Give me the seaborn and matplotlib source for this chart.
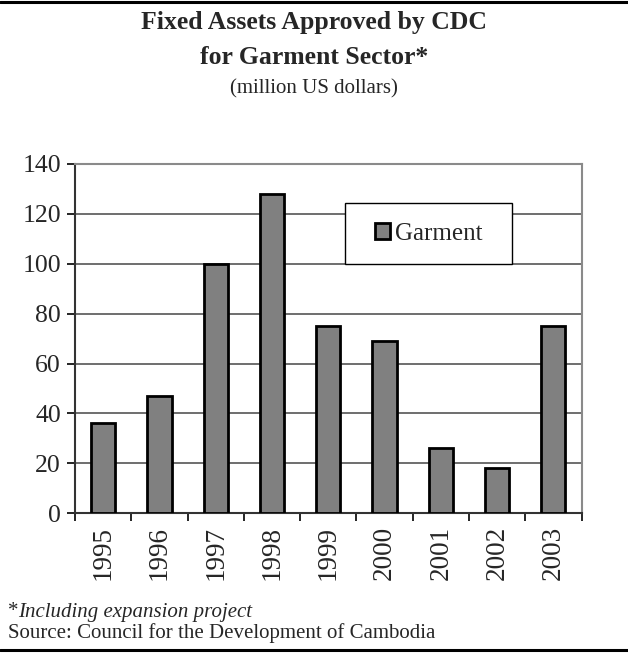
import matplotlib
matplotlib.use("Agg")
import matplotlib.pyplot as plt
import seaborn as sns
import numpy as np
import pandas as pd
from matplotlib.lines import Line2D
from matplotlib.patches import Rectangle

years = ["1995", "1996", "1997", "1998", "1999", "2000", "2001", "2002", "2003"]
garment = [36, 47, 100, 128, 75, 69, 26, 18, 75]
yticks = [0, 20, 40, 60, 80, 100, 120, 140]

sns.set_style("white")
plt.rcParams["font.family"] = ["Liberation Serif", "DejaVu Serif"]

fig = plt.figure(figsize=(6.28, 6.53), dpi=100)
ax = fig.add_axes([75/628, 1-513.3/653, 506.5/628, 349.3/653])

df = pd.DataFrame({"year": years, "value": garment})
sns.barplot(data=df, x="year", y="value", color="#808080", edgecolor="black",
            linewidth=2, width=0.43, saturation=1, label="Garment", ax=ax, zorder=3)

ax.set_ylim(0, 140)
ax.set_xlim(-0.5, len(years) - 0.5)
ax.set_yticks(yticks)
ax.set_yticklabels([str(v) for v in yticks], fontsize=18.5)
ax.set_xticks(range(len(years)))
ax.set_xticklabels(years, rotation=90, fontsize=19.5)
ax.set_xticks(np.arange(-0.5, len(years), 1), minor=True)
ax.tick_params(axis="x", which="major", length=0, pad=9)
ax.tick_params(axis="x", which="minor", length=6, width=1.2, color="black", direction="out", bottom=True)
ax.tick_params(axis="y", length=6, width=1.2, color="black", direction="out", left=True, pad=4)
ax.set_xlabel("")
ax.set_ylabel("")

ax.yaxis.grid(True, color="#555555", linewidth=1.2, zorder=0)
ax.set_axisbelow(True)
for s in ["top", "right"]:
    ax.spines[s].set_color("#8a8a8a")
    ax.spines[s].set_linewidth(1.5)
for s in ["left", "bottom"]:
    ax.spines[s].set_color("#333333")
    ax.spines[s].set_linewidth(1.5)

# legend box (frame drawn separately to match the reference proportions)
ax.add_patch(Rectangle((0.533, 0.714), 0.330, 0.174, transform=ax.transAxes,
                       facecolor="white", edgecolor="black", linewidth=1.0, zorder=4))
leg = ax.legend(loc="center", bbox_to_anchor=(0.698, 0.801), fontsize=18, frameon=False,
                handlelength=0.6, handleheight=0.6, handletextpad=0.2, borderaxespad=0)
leg.set_zorder(5)

fig.text(0.5, 1-22/653, "Fixed Assets Approved by CDC", ha="center", va="center",
         fontsize=18.5, fontweight="bold")
fig.text(0.5, 1-58/653, "for Garment Sector*", ha="center", va="center",
         fontsize=18.5, fontweight="bold")
fig.text(0.5, 1-89/653, "(million US dollars)", ha="center", va="center", fontsize=15)

star = fig.text(8/628, 1-612/653, "*", ha="left", va="center", fontsize=15)
ax.annotate("Including expansion project", xy=(1, 0.5), xycoords=star, ha="left",
            va="center", fontsize=15, style="italic", annotation_clip=False)
fig.text(8/628, 1-633/653, "Source: Council for the Development of Cambodia", ha="left",
         va="center", fontsize=15)

fig.add_artist(Line2D([0, 1], [1-1.5/653, 1-1.5/653], color="black", linewidth=2.2,
                      transform=fig.transFigure))
fig.add_artist(Line2D([0, 1], [1-650/653, 1-650/653], color="black", linewidth=2.2,
                      transform=fig.transFigure))

fig.savefig("out.png", dpi=100)
